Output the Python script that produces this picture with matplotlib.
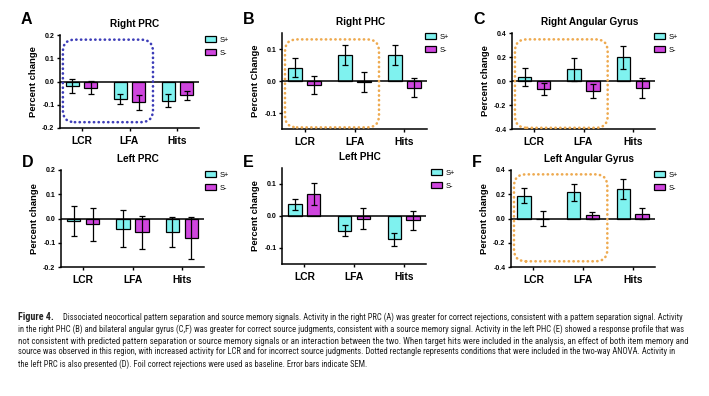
import matplotlib
matplotlib.use("Agg")
import matplotlib.pyplot as plt
import numpy as np
from matplotlib import font_manager
from matplotlib.font_manager import FontProperties
from matplotlib.patches import FancyBboxPatch
from matplotlib.transforms import IdentityTransform

# --- data (percent signal change) ---
CATEGORIES = ["LCR", "LFA", "Hits"]
SERIES = ["S+", "S-"]

a_plus = [-0.020, -0.075, -0.082]
a_plus_err = [0.029, 0.023, 0.027]
a_minus = [-0.026, -0.090, -0.060]
a_minus_err = [0.027, 0.033, 0.021]

b_plus = [0.042, 0.081, 0.082]
b_plus_err = [0.031, 0.031, 0.032]
b_minus = [-0.012, -0.004, -0.021]
b_minus_err = [0.028, 0.031, 0.029]

c_plus = [0.031, 0.097, 0.197]
c_plus_err = [0.075, 0.093, 0.097]
c_minus = [-0.067, -0.083, -0.058]
c_minus_err = [0.050, 0.060, 0.082]

d_plus = [-0.012, -0.043, -0.055]
d_plus_err = [0.062, 0.076, 0.061]
d_minus = [-0.023, -0.057, -0.079]
d_minus_err = [0.068, 0.069, 0.087]

e_plus = [0.036, -0.046, -0.073]
e_plus_err = [0.016, 0.017, 0.020]
e_minus = [0.068, -0.008, -0.014]
e_minus_err = [0.035, 0.033, 0.030]

f_plus = [0.188, 0.215, 0.243]
f_plus_err = [0.063, 0.070, 0.081]
f_minus = [0.000, 0.025, 0.041]
f_minus_err = [0.065, 0.030, 0.047]

LETTERS = ["A", "B", "C", "D", "E", "F"]
TITLES = ["Right PRC", "Right PHC", "Right Angular Gyrus",
          "Left PRC", "Left PHC", "Left Angular Gyrus"]
YLABELS = ["Percent change", "Percent Change", "Percent change",
           "Percent change", "Percent change", "Percent change"]
YLIMS = [(-0.2, 0.2), (-0.15, 0.15), (-0.4, 0.4),
         (-0.2, 0.2), (-0.15, 0.15), (-0.4, 0.4)]
YTICKS = [[-0.2, -0.1, 0.0, 0.1, 0.2], [-0.1, 0.0, 0.1],
          [-0.4, -0.2, 0.0, 0.2, 0.4], [-0.2, -0.1, 0.0, 0.1, 0.2],
          [-0.1, 0.0, 0.1], [-0.4, -0.2, 0.0, 0.2, 0.4]]
# dotted box: conditions in the two-way ANOVA (y range in data units), None = no box
BOX_Y = [(-0.175, 0.18), (-0.145, 0.13), (-0.39, 0.347),
         None, None, (-0.353, 0.364)]

CAPTION = [
    "Dissociated neocortical pattern separation and source memory signals. Activity in the right PRC (A) was greater for correct rejections, consistent with a pattern separation signal. Activity",
    "in the right PHC (B) and bilateral angular gyrus (C,F) was greater for correct source judgments, consistent with a source memory signal. Activity in the left PHC (E) showed a response profile that was",
    "not consistent with predicted pattern separation or source memory signals or an interaction between the two. When target hits were included in the analysis, an effect of both item memory and",
    "source was observed in this region, with increased activity for LCR and for incorrect source judgments. Dotted rectangle represents conditions that were included in the two-way ANOVA. Activity in",
    "the left PRC is also presented (D). Foil correct rejections were used as baseline. Error bars indicate SEM.",
]

# --- style ---
CYAN = "#7ff2ef"
MAGENTA = "#cf45de"
ORANGE = "#eeaa50"
BLUE = "#3d3db8"
INK = "#222222"
W, H = 709, 396

# axes rectangles in pixels: left, top, right, bottom
AX_PX = [(60, 35, 199, 128), (282, 33, 427, 129), (512, 33, 655, 129),
         (61, 170, 204, 267), (282, 168, 426, 264), (511, 170, 655, 267)]
LEG_PX = [(205, 36), (425, 33), (654, 33), (205, 171), (431, 169), (654, 171)]

plt.rcParams.update({
    "font.family": "sans-serif",
    "font.sans-serif": ["Liberation Sans", "Arial", "DejaVu Sans"],
    "font.weight": "bold",
    "axes.titleweight": "bold",
    "axes.labelweight": "bold",
    "axes.linewidth": 1.1,
})


def _caption_fonts():
    """Pick a narrow/condensed face for the caption if one is installed."""
    regular, bold = None, None
    wanted = ("Liberation Sans Narrow", "Roboto Condensed", "DejaVu Sans",
              "Open Sans Condensed", "Noto Sans")
    for name in wanted:
        for f in font_manager.fontManager.ttflist:
            if f.name != name or f.style != "normal":
                continue
            narrow = "Narrow" in name or "Condensed" in name or f.stretch in (
                "condensed", "semi-condensed", 300, 400)
            if not narrow:
                continue
            is_bold = f.weight in ("bold", 700)
            if is_bold and bold is None:
                bold = f.fname
            if not is_bold and f.weight in ("normal", "regular", 400) and regular is None:
                regular = f.fname
        if regular:
            break
    reg = FontProperties(fname=regular) if regular else FontProperties(family="Liberation Sans")
    bld = FontProperties(fname=bold) if bold else FontProperties(family="Liberation Sans", weight="bold")
    return reg, bld


CAP_REG, CAP_BOLD = _caption_fonts()

panels = [
    (a_plus, a_plus_err, a_minus, a_minus_err),
    (b_plus, b_plus_err, b_minus, b_minus_err),
    (c_plus, c_plus_err, c_minus, c_minus_err),
    (d_plus, d_plus_err, d_minus, d_minus_err),
    (e_plus, e_plus_err, e_minus, e_minus_err),
    (f_plus, f_plus_err, f_minus, f_minus_err),
]

fig = plt.figure(figsize=(W / 100, H / 100), dpi=100)
x = np.arange(len(CATEGORIES))
bw, off = 0.27, 0.19

for i, (plus, plus_e, minus, minus_e) in enumerate(panels):
    l, t, r, b = AX_PX[i]
    ax = fig.add_axes([l / W, 1 - b / H, (r - l) / W, (b - t) / H])
    err_kw = dict(ecolor="black", elinewidth=0.9, capsize=2.2, capthick=0.9)
    ax.bar(x - off, plus, bw, yerr=plus_e, color=CYAN, edgecolor="black",
           linewidth=0.9, error_kw=err_kw, label=SERIES[0], zorder=2)
    ax.bar(x + off, minus, bw, yerr=minus_e, color=MAGENTA, edgecolor="black",
           linewidth=0.9, error_kw=err_kw, label=SERIES[1], zorder=2)
    ax.axhline(0, color="black", linewidth=1.1, zorder=3)
    ax.set_xlim(-0.45, 2.45)
    ax.set_ylim(*YLIMS[i])
    ax.set_yticks(YTICKS[i], [f"{v:.1f}" for v in YTICKS[i]])
    ax.set_xticks(x, CATEGORIES)
    for side in ("top", "right"):
        ax.spines[side].set_visible(False)
    ax.tick_params(axis="y", length=2.5, width=1, labelsize=5, pad=1.5)
    ax.tick_params(axis="x", length=2.5, width=1, labelsize=7.4, pad=3)
    ax.set_ylabel(YLABELS[i], fontsize=6.8, labelpad=3)
    ax.set_title(TITLES[i], fontsize=7.2, x=0.54, pad=6)
    fig.text((l - 39) / W, 1 - 20 / H if i < 3 else 1 - 163 / H, LETTERS[i],
             fontsize=11.5, ha="left", va="center")
    lx, ly = LEG_PX[i]
    ax.legend(loc="upper left", bbox_to_anchor=(lx / W, 1 - ly / H),
              bbox_transform=fig.transFigure, frameon=False,
              prop={"size": 5.4, "weight": "normal"},
              handlelength=1.5, handleheight=0.85, handletextpad=0.5,
              labelspacing=0.75, borderpad=0, borderaxespad=0)

    if BOX_Y[i] is not None:
        y0, y1 = BOX_Y[i]
        color = BLUE if i == 0 else ORANGE
        (px0, py0), (px1, py1) = ax.transData.transform([(-0.39, y0), (1.49, y1)])
        box = FancyBboxPatch((px0, py0), px1 - px0, py1 - py0,
                             boxstyle="round,pad=0,rounding_size=12",
                             transform=IdentityTransform(), fill=False,
                             edgecolor=color, linewidth=1.9,
                             linestyle=(0, (0.1, 1.7)), capstyle="round",
                             clip_on=False, zorder=5)
        fig.add_artist(box)

# --- caption (lines stretched to the column width, as the journal justifies them) ---
renderer = fig.canvas.get_renderer()
line_y = [317, 329, 341, 352, 364]
starts = [63, 18, 18, 18, 18]
right = 686
head = fig.text(18 / W, 1 - line_y[0] / H, "Figure 4.", fontproperties=CAP_BOLD.copy(),
                color=INK, va="center")
head.set_fontsize(7.2)
texts = []
for s, yy, x0 in zip(CAPTION, line_y, starts):
    tx = fig.text(x0 / W, 1 - yy / H, s, fontproperties=CAP_REG.copy(),
                  color=INK, va="center", ha="left")
    size = 10.0
    for _ in range(3):
        tx.set_fontsize(size)
        wpx = tx.get_window_extent(renderer).width
        size = size * (right - x0) / wpx
    texts.append((tx, size))
body = min(sz for _, sz in texts[:-1])
for k, (tx, sz) in enumerate(texts):
    tx.set_fontsize(sz if k < len(texts) - 1 else body)

fig.savefig("out.png", dpi=100)
